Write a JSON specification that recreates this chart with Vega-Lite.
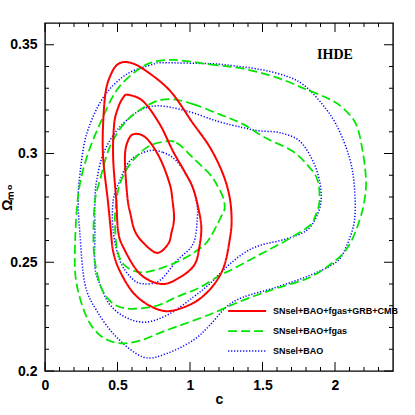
{
  "$schema": "https://vega.github.io/schema/vega-lite/v6.json",
  "width": 348,
  "height": 348,
  "autosize": {"type": "none"},
  "padding": {"left": 45, "top": 23, "right": 22, "bottom": 44},
  "background": "white",
  "config": {
    "view": {"stroke": "#000", "strokeWidth": 1.4},
    "axis": {"grid": false, "domain": false, "ticks": false, "labelColor": "#000", "titleColor": "#000", "labelFont": "Liberation Sans", "titleFont": "Liberation Sans", "labelFontWeight": "bold", "titleFontWeight": "bold", "labelFontSize": 14, "titleFontSize": 14, "labelOverlap": false, "labelFlush": false}
  },
  "datasets": {
    "xticks": [{"v":0},{"v":0.1},{"v":0.2},{"v":0.3},{"v":0.4},{"v":0.5},{"v":0.6},{"v":0.7},{"v":0.8},{"v":0.9},{"v":1},{"v":1.1},{"v":1.2},{"v":1.3},{"v":1.4},{"v":1.5},{"v":1.6},{"v":1.7},{"v":1.8},{"v":1.9},{"v":2},{"v":2.1},{"v":2.2},{"v":2.3}],
    "yticks": [{"v":0.2},{"v":0.21},{"v":0.22},{"v":0.23},{"v":0.24},{"v":0.25},{"v":0.26},{"v":0.27},{"v":0.28},{"v":0.29},{"v":0.3},{"v":0.31},{"v":0.32},{"v":0.33},{"v":0.34},{"v":0.35}],
    "contours": [
    {"s":"C","k":"B3","i":1,"x":0.814,"y":0.3417},{"s":"C","k":"B3","i":2,"x":1.136,"y":0.3413},{"s":"C","k":"B3","i":3,"x":1.25,"y":0.3407},{"s":"C","k":"B3","i":4,"x":1.48,"y":0.3387},{"s":"C","k":"B3","i":5,"x":1.663,"y":0.3356},{"s":"C","k":"B3","i":6,"x":1.778,"y":0.3318},{"s":"C","k":"B3","i":7,"x":1.893,"y":0.3242},{"s":"C","k":"B3","i":8,"x":2.007,"y":0.3135},{"s":"C","k":"B3","i":9,"x":2.099,"y":0.2982},{"s":"C","k":"B3","i":10,"x":2.134,"y":0.2844},{"s":"C","k":"B3","i":11,"x":2.134,"y":0.2691},{"s":"C","k":"B3","i":12,"x":2.076,"y":0.2569},{"s":"C","k":"B3","i":13,"x":2.007,"y":0.25},{"s":"C","k":"B3","i":14,"x":1.824,"y":0.2439},{"s":"C","k":"B3","i":15,"x":1.595,"y":0.2385},{"s":"C","k":"B3","i":16,"x":1.365,"y":0.2339},{"s":"C","k":"B3","i":17,"x":1.25,"y":0.2294},{"s":"C","k":"B3","i":18,"x":1.136,"y":0.221},{"s":"C","k":"B3","i":19,"x":1.021,"y":0.2141},{"s":"C","k":"B3","i":20,"x":0.838,"y":0.208},{"s":"C","k":"B3","i":21,"x":0.677,"y":0.2064},{"s":"C","k":"B3","i":22,"x":0.493,"y":0.2156},{"s":"C","k":"B3","i":23,"x":0.356,"y":0.2278},{"s":"C","k":"B3","i":24,"x":0.275,"y":0.2401},{"s":"C","k":"B3","i":25,"x":0.241,"y":0.263},{"s":"C","k":"B3","i":26,"x":0.229,"y":0.2783},{"s":"C","k":"B3","i":27,"x":0.241,"y":0.2905},{"s":"C","k":"B3","i":28,"x":0.287,"y":0.3089},{"s":"C","k":"B3","i":29,"x":0.401,"y":0.3257},{"s":"C","k":"B3","i":30,"x":0.562,"y":0.3364},{"s":"C","k":"B3","i":31,"x":0.745,"y":0.341},
    {"s":"C","k":"B2","i":1,"x":0.769,"y":0.3219},{"s":"C","k":"B2","i":2,"x":0.975,"y":0.3196},{"s":"C","k":"B2","i":3,"x":1.191,"y":0.3148},{"s":"C","k":"B2","i":4,"x":1.365,"y":0.3119},{"s":"C","k":"B2","i":5,"x":1.48,"y":0.3104},{"s":"C","k":"B2","i":6,"x":1.617,"y":0.3096},{"s":"C","k":"B2","i":7,"x":1.755,"y":0.3058},{"s":"C","k":"B2","i":8,"x":1.847,"y":0.2966},{"s":"C","k":"B2","i":9,"x":1.893,"y":0.2875},{"s":"C","k":"B2","i":10,"x":1.904,"y":0.2783},{"s":"C","k":"B2","i":11,"x":1.87,"y":0.2706},{"s":"C","k":"B2","i":12,"x":1.801,"y":0.2645},{"s":"C","k":"B2","i":13,"x":1.663,"y":0.2607},{"s":"C","k":"B2","i":14,"x":1.48,"y":0.2577},{"s":"C","k":"B2","i":15,"x":1.365,"y":0.2539},{"s":"C","k":"B2","i":16,"x":1.25,"y":0.2477},{"s":"C","k":"B2","i":17,"x":1.136,"y":0.2401},{"s":"C","k":"B2","i":18,"x":1.021,"y":0.2339},{"s":"C","k":"B2","i":19,"x":0.86,"y":0.2263},{"s":"C","k":"B2","i":20,"x":0.7,"y":0.2225},{"s":"C","k":"B2","i":21,"x":0.562,"y":0.2245},{"s":"C","k":"B2","i":22,"x":0.447,"y":0.2305},{"s":"C","k":"B2","i":23,"x":0.378,"y":0.24},{"s":"C","k":"B2","i":24,"x":0.344,"y":0.2477},{"s":"C","k":"B2","i":25,"x":0.344,"y":0.263},{"s":"C","k":"B2","i":26,"x":0.344,"y":0.2783},{"s":"C","k":"B2","i":27,"x":0.356,"y":0.2875},{"s":"C","k":"B2","i":28,"x":0.401,"y":0.2997},{"s":"C","k":"B2","i":29,"x":0.493,"y":0.3104},{"s":"C","k":"B2","i":30,"x":0.631,"y":0.3188},
    {"s":"C","k":"B1","i":1,"x":0.711,"y":0.3012},{"s":"C","k":"B1","i":2,"x":0.814,"y":0.3005},{"s":"C","k":"B1","i":3,"x":0.906,"y":0.2966},{"s":"C","k":"B1","i":4,"x":0.998,"y":0.2875},{"s":"C","k":"B1","i":5,"x":1.044,"y":0.2783},{"s":"C","k":"B1","i":6,"x":1.05,"y":0.27},{"s":"C","k":"B1","i":7,"x":1.021,"y":0.2584},{"s":"C","k":"B1","i":8,"x":0.906,"y":0.2505},{"s":"C","k":"B1","i":9,"x":0.791,"y":0.2416},{"s":"C","k":"B1","i":10,"x":0.677,"y":0.2401},{"s":"C","k":"B1","i":11,"x":0.6,"y":0.2425},{"s":"C","k":"B1","i":12,"x":0.516,"y":0.2508},{"s":"C","k":"B1","i":13,"x":0.47,"y":0.2645},{"s":"C","k":"B1","i":14,"x":0.47,"y":0.2783},{"s":"C","k":"B1","i":15,"x":0.516,"y":0.2875},{"s":"C","k":"B1","i":16,"x":0.585,"y":0.2966},
    {"s":"B","k":"G3","i":1,"x":0.895,"y":0.343},{"s":"B","k":"G3","i":2,"x":1.136,"y":0.341},{"s":"B","k":"G3","i":3,"x":1.365,"y":0.339},{"s":"B","k":"G3","i":4,"x":1.595,"y":0.335},{"s":"B","k":"G3","i":5,"x":1.801,"y":0.3295},{"s":"B","k":"G3","i":6,"x":1.961,"y":0.325},{"s":"B","k":"G3","i":7,"x":2.053,"y":0.321},{"s":"B","k":"G3","i":8,"x":2.145,"y":0.3135},{"s":"B","k":"G3","i":9,"x":2.191,"y":0.301},{"s":"B","k":"G3","i":10,"x":2.214,"y":0.2875},{"s":"B","k":"G3","i":11,"x":2.202,"y":0.278},{"s":"B","k":"G3","i":12,"x":2.168,"y":0.269},{"s":"B","k":"G3","i":13,"x":2.099,"y":0.258},{"s":"B","k":"G3","i":14,"x":2.007,"y":0.251},{"s":"B","k":"G3","i":15,"x":1.824,"y":0.243},{"s":"B","k":"G3","i":16,"x":1.595,"y":0.238},{"s":"B","k":"G3","i":17,"x":1.365,"y":0.2325},{"s":"B","k":"G3","i":18,"x":1.136,"y":0.226},{"s":"B","k":"G3","i":19,"x":0.838,"y":0.2187},{"s":"B","k":"G3","i":20,"x":0.654,"y":0.214},{"s":"B","k":"G3","i":21,"x":0.504,"y":0.2128},{"s":"B","k":"G3","i":22,"x":0.378,"y":0.2165},{"s":"B","k":"G3","i":23,"x":0.287,"y":0.2248},{"s":"B","k":"G3","i":24,"x":0.218,"y":0.24},{"s":"B","k":"G3","i":25,"x":0.206,"y":0.2554},{"s":"B","k":"G3","i":26,"x":0.229,"y":0.281},{"s":"B","k":"G3","i":27,"x":0.287,"y":0.298},{"s":"B","k":"G3","i":28,"x":0.378,"y":0.3135},{"s":"B","k":"G3","i":29,"x":0.493,"y":0.329},{"s":"B","k":"G3","i":30,"x":0.631,"y":0.338},{"s":"B","k":"G3","i":31,"x":0.745,"y":0.342},
    {"s":"B","k":"G2","i":1,"x":0.86,"y":0.325},{"s":"B","k":"G2","i":2,"x":1.021,"y":0.3227},{"s":"B","k":"G2","i":3,"x":1.204,"y":0.318},{"s":"B","k":"G2","i":4,"x":1.365,"y":0.3135},{"s":"B","k":"G2","i":5,"x":1.526,"y":0.307},{"s":"B","k":"G2","i":6,"x":1.709,"y":0.301},{"s":"B","k":"G2","i":7,"x":1.824,"y":0.2936},{"s":"B","k":"G2","i":8,"x":1.881,"y":0.2875},{"s":"B","k":"G2","i":9,"x":1.893,"y":0.278},{"s":"B","k":"G2","i":10,"x":1.865,"y":0.2714},{"s":"B","k":"G2","i":11,"x":1.824,"y":0.2668},{"s":"B","k":"G2","i":12,"x":1.663,"y":0.26},{"s":"B","k":"G2","i":13,"x":1.48,"y":0.2535},{"s":"B","k":"G2","i":14,"x":1.3,"y":0.247},{"s":"B","k":"G2","i":15,"x":1.204,"y":0.2439},{"s":"B","k":"G2","i":16,"x":1.067,"y":0.2384},{"s":"B","k":"G2","i":17,"x":0.906,"y":0.234},{"s":"B","k":"G2","i":18,"x":0.769,"y":0.23},{"s":"B","k":"G2","i":19,"x":0.585,"y":0.2286},{"s":"B","k":"G2","i":20,"x":0.47,"y":0.231},{"s":"B","k":"G2","i":21,"x":0.39,"y":0.238},{"s":"B","k":"G2","i":22,"x":0.345,"y":0.25},{"s":"B","k":"G2","i":23,"x":0.334,"y":0.262},{"s":"B","k":"G2","i":24,"x":0.344,"y":0.278},{"s":"B","k":"G2","i":25,"x":0.378,"y":0.2875},{"s":"B","k":"G2","i":26,"x":0.447,"y":0.303},{"s":"B","k":"G2","i":27,"x":0.562,"y":0.315},{"s":"B","k":"G2","i":28,"x":0.723,"y":0.3227},
    {"s":"B","k":"G1","i":1,"x":0.814,"y":0.3054},{"s":"B","k":"G1","i":2,"x":0.906,"y":0.305},{"s":"B","k":"G1","i":3,"x":1.021,"y":0.298},{"s":"B","k":"G1","i":4,"x":1.136,"y":0.2905},{"s":"B","k":"G1","i":5,"x":1.182,"y":0.286},{"s":"B","k":"G1","i":6,"x":1.227,"y":0.28},{"s":"B","k":"G1","i":7,"x":1.239,"y":0.275},{"s":"B","k":"G1","i":8,"x":1.218,"y":0.2714},{"s":"B","k":"G1","i":9,"x":1.136,"y":0.261},{"s":"B","k":"G1","i":10,"x":1.067,"y":0.2563},{"s":"B","k":"G1","i":11,"x":0.906,"y":0.25},{"s":"B","k":"G1","i":12,"x":0.688,"y":0.2454},{"s":"B","k":"G1","i":13,"x":0.56,"y":0.248},{"s":"B","k":"G1","i":14,"x":0.5,"y":0.255},{"s":"B","k":"G1","i":15,"x":0.482,"y":0.269},{"s":"B","k":"G1","i":16,"x":0.493,"y":0.278},{"s":"B","k":"G1","i":17,"x":0.516,"y":0.286},{"s":"B","k":"G1","i":18,"x":0.585,"y":0.295},{"s":"B","k":"G1","i":19,"x":0.7,"y":0.3027},
    {"s":"A","k":"R3","i":1,"x":0.569,"y":0.342},{"s":"A","k":"R3","i":2,"x":0.674,"y":0.339},{"s":"A","k":"R3","i":3,"x":0.86,"y":0.329},{"s":"A","k":"R3","i":4,"x":1.019,"y":0.314},{"s":"A","k":"R3","i":5,"x":1.136,"y":0.303},{"s":"A","k":"R3","i":6,"x":1.225,"y":0.291},{"s":"A","k":"R3","i":7,"x":1.273,"y":0.28},{"s":"A","k":"R3","i":8,"x":1.287,"y":0.269},{"s":"A","k":"R3","i":9,"x":1.273,"y":0.26},{"s":"A","k":"R3","i":10,"x":1.239,"y":0.249},{"s":"A","k":"R3","i":11,"x":1.184,"y":0.2415},{"s":"A","k":"R3","i":12,"x":1.1,"y":0.235},{"s":"A","k":"R3","i":13,"x":1.0,"y":0.2305},{"s":"A","k":"R3","i":14,"x":0.849,"y":0.2275},{"s":"A","k":"R3","i":15,"x":0.723,"y":0.23},{"s":"A","k":"R3","i":16,"x":0.608,"y":0.236},{"s":"A","k":"R3","i":17,"x":0.516,"y":0.246},{"s":"A","k":"R3","i":18,"x":0.47,"y":0.255},{"s":"A","k":"R3","i":19,"x":0.452,"y":0.266},{"s":"A","k":"R3","i":20,"x":0.434,"y":0.278},{"s":"A","k":"R3","i":21,"x":0.401,"y":0.298},{"s":"A","k":"R3","i":22,"x":0.401,"y":0.314},{"s":"A","k":"R3","i":23,"x":0.42,"y":0.329},{"s":"A","k":"R3","i":24,"x":0.459,"y":0.337},{"s":"A","k":"R3","i":25,"x":0.502,"y":0.341},
    {"s":"A","k":"R2","i":1,"x":0.573,"y":0.327},{"s":"A","k":"R2","i":2,"x":0.677,"y":0.324},{"s":"A","k":"R2","i":3,"x":0.791,"y":0.3135},{"s":"A","k":"R2","i":4,"x":0.883,"y":0.301},{"s":"A","k":"R2","i":5,"x":0.96,"y":0.292},{"s":"A","k":"R2","i":6,"x":1.021,"y":0.284},{"s":"A","k":"R2","i":7,"x":1.06,"y":0.274},{"s":"A","k":"R2","i":8,"x":1.078,"y":0.266},{"s":"A","k":"R2","i":9,"x":1.067,"y":0.258},{"s":"A","k":"R2","i":10,"x":1.032,"y":0.249},{"s":"A","k":"R2","i":11,"x":0.929,"y":0.243},{"s":"A","k":"R2","i":12,"x":0.803,"y":0.24},{"s":"A","k":"R2","i":13,"x":0.654,"y":0.2447},{"s":"A","k":"R2","i":14,"x":0.539,"y":0.257},{"s":"A","k":"R2","i":15,"x":0.504,"y":0.2645},{"s":"A","k":"R2","i":16,"x":0.492,"y":0.278},{"s":"A","k":"R2","i":17,"x":0.47,"y":0.298},{"s":"A","k":"R2","i":18,"x":0.477,"y":0.3135},{"s":"A","k":"R2","i":19,"x":0.504,"y":0.321},{"s":"A","k":"R2","i":20,"x":0.539,"y":0.3257},
    {"s":"A","k":"R1","i":1,"x":0.619,"y":0.309},{"s":"A","k":"R1","i":2,"x":0.7,"y":0.307},{"s":"A","k":"R1","i":3,"x":0.791,"y":0.298},{"s":"A","k":"R1","i":4,"x":0.86,"y":0.286},{"s":"A","k":"R1","i":5,"x":0.88,"y":0.278},{"s":"A","k":"R1","i":6,"x":0.89,"y":0.27},{"s":"A","k":"R1","i":7,"x":0.872,"y":0.2635},{"s":"A","k":"R1","i":8,"x":0.849,"y":0.2584},{"s":"A","k":"R1","i":9,"x":0.773,"y":0.2543},{"s":"A","k":"R1","i":10,"x":0.677,"y":0.259},{"s":"A","k":"R1","i":11,"x":0.619,"y":0.2645},{"s":"A","k":"R1","i":12,"x":0.59,"y":0.272},{"s":"A","k":"R1","i":13,"x":0.568,"y":0.28},{"s":"A","k":"R1","i":14,"x":0.551,"y":0.298},{"s":"A","k":"R1","i":15,"x":0.573,"y":0.306}
    ]
  },
  "layer": [
    {
      "data": {"name": "contours"},
      "mark": {"type": "line", "interpolate": "cardinal-closed", "clip": true},
      "encoding": {
        "x": {"field": "x", "type": "quantitative", "scale": {"domain": [0, 2.4], "nice": false, "zero": false},
          "axis": {"orient": "bottom", "title": "c", "titlePadding": 0,
            "values": [0, 0.5, 1, 1.5, 2], "format": "~g", "labelPadding": 7}},
        "y": {"field": "y", "type": "quantitative", "scale": {"domain": [0.2, 0.36], "nice": false, "zero": false},
          "axis": {"orient": "left", "title": "Ωₘ₀", "titlePadding": -5,
            "values": [0.2, 0.25, 0.3, 0.35], "format": "~g", "labelPadding": 8}},
        "order": {"field": "i", "type": "quantitative"},
        "detail": {"field": "k"},
        "color": {"field": "s", "type": "nominal",
          "scale": {"domain": ["A", "B", "C"], "range": ["#ff0000", "#00e600", "#0000ff"]},
          "legend": {"orient": "none", "legendX": 191.6, "legendY": 277.6, "title": null, "padding": 0,
            "symbolType": "M-2,0H2", "symbolSize": 361, "symbolStrokeWidth": 1.8,
            "labelFont": "Liberation Sans", "labelFontSize": 9, "labelFontWeight": "bold", "labelColor": "#000",
            "labelOffset": 15.3, "rowPadding": 4,
            "labelExpr": "datum.label == 'A' ? 'SNsel+BAO+fgas+GRB+CMB' : datum.label == 'B' ? 'SNsel+BAO+fgas' : 'SNsel+BAO'"}},
        "strokeDash": {"field": "s", "type": "nominal",
          "scale": {"domain": ["A", "B", "C"], "range": [[1, 0], [9, 4], [1.2, 1.8]]},
          "legend": {"orient": "none", "legendX": 191.6, "legendY": 277.6, "title": null, "padding": 0,
            "symbolType": "M-2,0H2", "symbolSize": 361, "symbolStrokeWidth": 1.8,
            "labelFont": "Liberation Sans", "labelFontSize": 9, "labelFontWeight": "bold", "labelColor": "#000",
            "labelOffset": 15.3, "rowPadding": 4,
            "labelExpr": "datum.label == 'A' ? 'SNsel+BAO+fgas+GRB+CMB' : datum.label == 'B' ? 'SNsel+BAO+fgas' : 'SNsel+BAO'"}},
        "strokeWidth": {"field": "s", "type": "nominal", "scale": {"domain": ["A", "B", "C"], "range": [2, 1.5, 1.2]}, "legend": null}
      }
    },
    {
      "data": {"values": [{}]},
      "mark": {"type": "text", "text": "IHDE", "font": "Liberation Serif", "fontWeight": "bold", "fontSize": 14, "align": "center", "baseline": "middle", "color": "#000"},
      "encoding": {
        "x": {"datum": 2.0, "type": "quantitative", "axis": null},
        "y": {"datum": 0.3455, "type": "quantitative", "axis": null}
      }
    },
    {
      "data": {"name": "xticks"},
      "mark": {"type": "point", "shape": "M0,0L0,-2", "filled": false, "color": "#000", "strokeWidth": 1, "opacity": 1},
      "encoding": {
        "x": {"field": "v", "type": "quantitative", "axis": null},
        "y": {"datum": 0.2, "type": "quantitative", "axis": null},
        "size": {"condition": {"test": "abs(datum.v*2-round(datum.v*2))<0.001", "value": 81}, "value": 16}
      }
    },
    {
      "data": {"name": "xticks"},
      "mark": {"type": "point", "shape": "M0,0L0,2", "filled": false, "color": "#000", "strokeWidth": 1, "opacity": 1},
      "encoding": {
        "x": {"field": "v", "type": "quantitative", "axis": null},
        "y": {"datum": 0.36, "type": "quantitative", "axis": null},
        "size": {"condition": {"test": "abs(datum.v*2-round(datum.v*2))<0.001", "value": 81}, "value": 16}
      }
    },
    {
      "data": {"name": "yticks"},
      "mark": {"type": "point", "shape": "M0,0L2,0", "filled": false, "color": "#000", "strokeWidth": 1, "opacity": 1},
      "encoding": {
        "y": {"field": "v", "type": "quantitative", "axis": null},
        "x": {"datum": 0, "type": "quantitative", "axis": null},
        "size": {"condition": {"test": "abs(datum.v*20-round(datum.v*20))<0.001", "value": 81}, "value": 16}
      }
    },
    {
      "data": {"name": "yticks"},
      "mark": {"type": "point", "shape": "M0,0L-2,0", "filled": false, "color": "#000", "strokeWidth": 1, "opacity": 1},
      "encoding": {
        "y": {"field": "v", "type": "quantitative", "axis": null},
        "x": {"datum": 2.4, "type": "quantitative", "axis": null},
        "size": {"condition": {"test": "abs(datum.v*20-round(datum.v*20))<0.001", "value": 81}, "value": 16}
      }
    }
  ],
  "resolve": {"axis": {"x": "independent", "y": "independent"}}
}
